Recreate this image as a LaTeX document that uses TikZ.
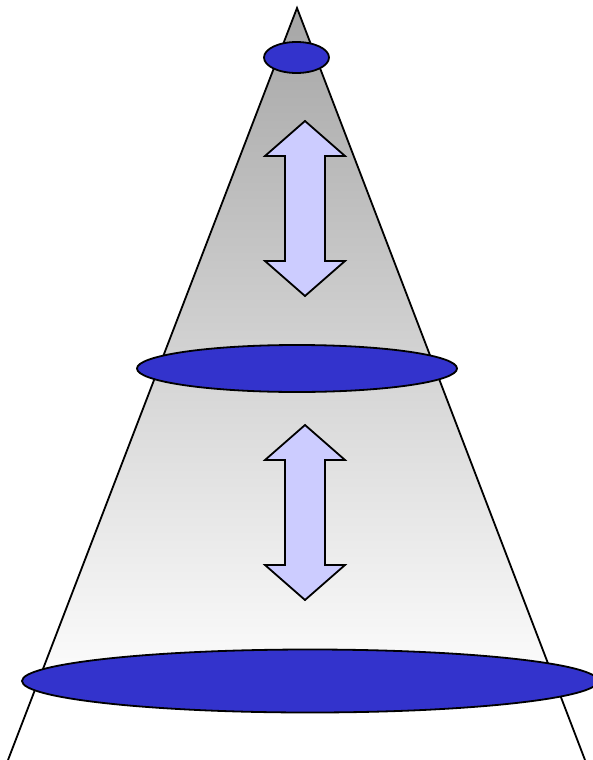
\documentclass[tikz,border=0pt]{standalone}
\begin{document}
\begin{tikzpicture}[x=1pt,y=-1pt,
  outline/.style={draw=black,line width=1.8pt,line join=miter},
  disc/.style={outline,fill=discblue},
  dblarrow/.style={outline,fill=arrowfill}]
\definecolor{discblue}{HTML}{3333CC}
\definecolor{arrowfill}{HTML}{CCCCFF}
\definecolor{conetop}{HTML}{A6A6A6}
\useasboundingbox (0,0) rectangle (593,760);
\clip (0,0) rectangle (593,760);
% cone
\fill[white] (297,8) -- (8,760) -- (585,760) -- cycle;
\begin{scope}
  \clip (297,8) -- (8,760) -- (585,760) -- cycle;
  \shade[top color=conetop,bottom color=white] (0,8) rectangle (593,700);
\end{scope}
\draw[outline] (8,760) -- (297,8) -- (585,760);
% discs
\draw[disc] (296.5,57.5) ellipse [x radius=32.5pt,y radius=15.5pt];
\draw[disc] (297,368.5) ellipse [x radius=160pt,y radius=23.5pt];
\draw[disc] (310,681) ellipse [x radius=288pt,y radius=31.5pt];
% double arrows
\foreach \t in {121,425}{
  \draw[dblarrow] (305,\t) -- (345,\t+35) -- (325,\t+35) -- (325,\t+140)
    -- (345,\t+140) -- (305,\t+175) -- (265,\t+140) -- (285,\t+140)
    -- (285,\t+35) -- (265,\t+35) -- cycle;
}
\end{tikzpicture}
\end{document}
